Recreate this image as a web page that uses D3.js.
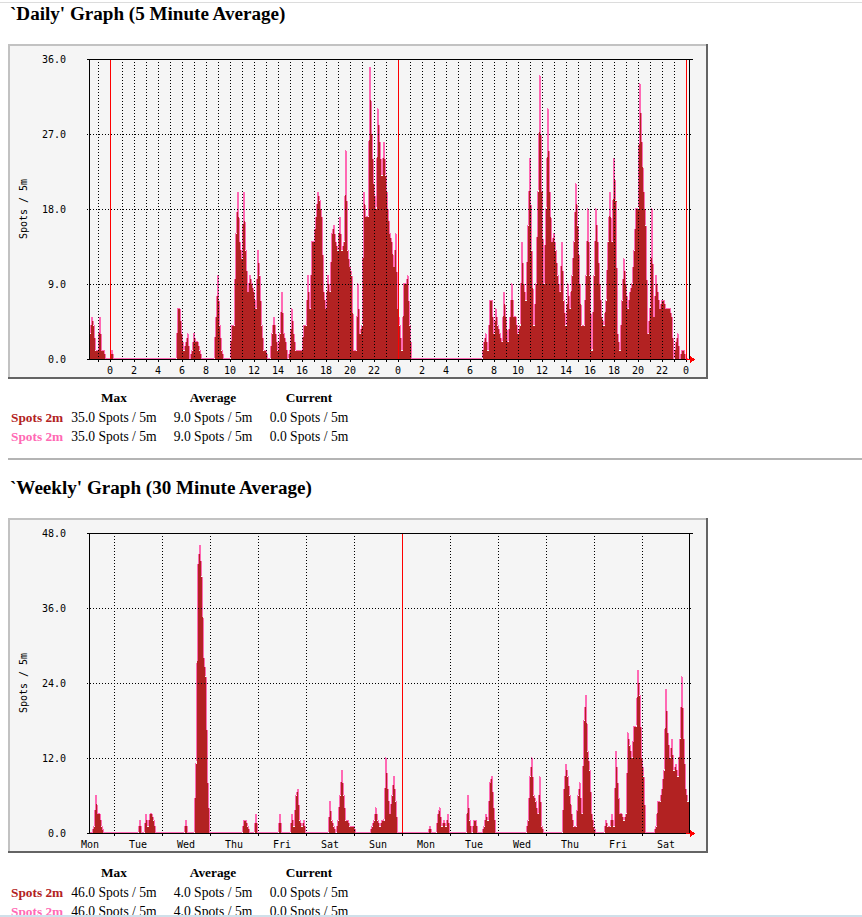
<!DOCTYPE html>
<html>
<head>
<meta charset="utf-8">
<script src="https://cdn.jsdelivr.net/npm/d3@7"></script>
<style>
  body { margin: 0; background: #fff; }
  svg { display: block; }
</style>
</head>
<body>
<svg id="page" width="862" height="917"></svg>
<script>
// daily graph: one value per 10 minutes, starting 22:15 the day before the first midnight
const dailyStart = -1.75;
const dailyStep = 1 / 6;
const dailySpots = [
  3,5,4,1,1,5,1,1,0,0,0,1,0,0,0,0,0,0,0,0,0,0,0,0,
  0,0,0,0,0,0,0,0,0,0,0,0,0,0,0,0,0,0,0,0,6,6,3,1,
  2,3,0,1,3,2,2,1,0,0,0,0,0,0,0,5,10,4,1,0,0,0,0,4,
  4,15,20,14,12,20,13,8,10,9,8,6,13,10,4,1,1,0,0,3,5,3,1,3,
  8,3,2,0,1,6,3,1,1,1,1,4,4,10,6,14,14,17,20,19,17,8,6,10,
  8,15,16,14,13,17,13,14,25,13,11,10,1,1,9,3,4,20,17,17,35,27,21,18,
  30,26,22,26,22,18,15,14,11,15,6,4,1,9,9,10,4,0,0,0,0,0,0,0,
  0,0,0,0,0,0,0,0,0,0,0,0,0,0,0,0,0,0,0,0,0,0,0,0,
  0,0,0,0,0,2,3,1,7,7,3,6,4,3,2,8,5,2,5,9,5,5,3,4,
  14,9,7,16,24,13,4,9,20,34,20,9,18,30,20,14,15,13,10,8,14,7,4,9,
  6,10,14,21,16,9,4,4,10,18,10,1,10,18,14,9,5,4,7,14,20,14,24,19,
  3,1,7,12,9,6,8,9,13,18,18,33,26,20,16,3,6,18,5,10,8,6,7,7,
  6,6,6,5,0,2,3,0,1,1,0,0
];
const dailyYTicks = [0, 9, 18, 27, 36];
const dailyHourLabels = ["0","2","4","6","8","10","12","14","16","18","20","22",
  "0","2","4","6","8","10","12","14","16","18","20","22","0"];
const dailyMidnights = [0, 24, 48];

// weekly graph: one value per hour, starting Monday 11:30
const weeklyStart = 11.5;
const weeklyStep = 1;
const weeklySpots = [
  0,0,1,6,3,3,1,0,0,0,0,0,0,0,0,0,0,0,0,0,0,0,0,0,
  0,2,0,0,3,1,3,3,2,0,0,0,0,0,0,0,0,0,0,0,0,0,0,0,
  2,0,0,0,0,11,43,46,41,28,25,8,0,0,0,0,0,0,0,0,0,0,0,0,
  0,0,0,0,0,2,2,1,0,0,0,3,0,0,0,0,0,0,0,0,0,0,0,3,
  0,0,0,0,0,3,1,6,7,2,1,2,0,0,0,0,0,0,0,0,0,0,0,0,
  5,2,1,0,2,6,10,6,2,2,1,1,1,0,0,0,0,0,0,0,0,1,2,4,
  2,1,2,2,12,7,3,6,9,5,0,0,0,0,0,0,0,0,0,0,0,0,0,0,
  0,0,1,0,0,0,3,4,1,2,1,3,0,0,0,0,0,0,0,0,0,6,2,0,
  2,2,0,0,0,1,3,2,8,9,4,0,0,0,0,0,0,0,0,0,0,0,0,0,
  0,0,0,2,9,12,6,5,3,9,1,0,0,0,0,0,0,0,0,0,0,7,11,9,
  6,3,1,1,6,8,3,18,22,13,10,3,1,0,0,0,0,0,2,1,1,3,1,13,
  8,3,3,2,3,16,14,12,17,17,26,22,12,9,0,0,0,0,0,1,5,5,7,10,
  23,16,12,15,10,11,9,15,25,15,7,5
];
const weeklyYTicks = [0, 12, 24, 36, 48];
const weeklyDayLabels = ["Mon","Tue","Wed","Thu","Fri","Sat","Sun","Mon","Tue","Wed","Thu","Fri","Sat"];
const weeklyMidnights = [24, 48, 72, 96, 120, 144, 168, 192, 216, 240, 264, 288];
const weeklyWeekStart = [168];

const legendHeaders = ["Max", "Average", "Current"];
const seriesNames = ["Spots 2m", "Spots 2m"];
const dailyStats = [35, 9, 0];
const weeklyStats = [46, 4, 0];
const unit = "Spots / 5m";

const inColor = "#b22222";
const outColor = "#ff69b4";
const mono = "'DejaVu Sans Mono', monospace";
const serif = "'Liberation Serif', 'Times New Roman', serif";

const svg = d3.select('#page');

function drawGraph(cfg) {
  const W = 700, H = 335, L = 81, R = 681, T = 15, B = 315;
  const g = svg.append('g').attr('transform', `translate(8, ${cfg.top})`);

  g.append('rect').attr('width', W).attr('height', H).attr('fill', '#f5f5f5');
  g.append('rect').attr('width', W).attr('height', 2).attr('fill', '#c2c2c2');
  g.append('rect').attr('width', 2).attr('height', H).attr('fill', '#c2c2c2');
  g.append('rect').attr('y', H - 2).attr('width', W).attr('height', 2).attr('fill', '#646464');
  g.append('rect').attr('x', W - 2).attr('width', 2).attr('height', H).attr('fill', '#646464');

  const end = cfg.start + cfg.values.length * cfg.step;
  const xScale = d3.scaleLinear().domain([cfg.start, end]).range([L, R]);
  const yScale = d3.scaleLinear().domain([0, d3.max(cfg.yTicks)]).range([B, T]);

  const pts = cfg.values.map((v, i) => ({ t: cfg.start + i * cfg.step, v }));

  const area = d3.area()
    .curve(d3.curveStepAfter)
    .x(d => xScale(d.t))
    .y0(yScale(0))
    .y1(d => yScale(d.v));

  g.append('path')
    .attr('d', area(pts.concat([{ t: end, v: pts[pts.length - 1].v }])))
    .attr('fill', inColor)
    .attr('shape-rendering', 'crispEdges');

  const half = (xScale(cfg.start + cfg.step) - xScale(cfg.start)) / 2;
  const line = d3.line()
    .x(d => xScale(d.t) + half)
    .y(d => yScale(d.v) - 0.5);

  g.append('path')
    .attr('d', line(pts))
    .attr('fill', 'none')
    .attr('stroke', outColor)
    .attr('stroke-width', 1)
    .attr('shape-rendering', 'crispEdges');

  const crisp = v => Math.round(v) + 0.5;

  // dotted grid
  g.selectAll('.vgrid').data(cfg.vGrid.filter(t => !cfg.red.includes(t)))
    .join('line')
    .attr('x1', d => crisp(xScale(d))).attr('x2', d => crisp(xScale(d)))
    .attr('y1', T).attr('y2', B)
    .attr('stroke', '#000').attr('stroke-dasharray', '1,2')
    .attr('shape-rendering', 'crispEdges');

  g.selectAll('.hgrid').data(cfg.yTicks.slice(1, -1))
    .join('line')
    .attr('x1', L - 2).attr('x2', R + 4)
    .attr('y1', d => crisp(yScale(d))).attr('y2', d => crisp(yScale(d)))
    .attr('stroke', '#000').attr('stroke-dasharray', '1,2')
    .attr('shape-rendering', 'crispEdges');

  // ticks under the x axis
  g.selectAll('.xtick').data(cfg.vGrid)
    .join('line')
    .attr('x1', d => crisp(xScale(d))).attr('x2', d => crisp(xScale(d)))
    .attr('y1', B).attr('y2', B + 3)
    .attr('stroke', '#000')
    .attr('shape-rendering', 'crispEdges');

  g.selectAll('.red').data(cfg.red)
    .join('line')
    .attr('x1', d => crisp(xScale(d))).attr('x2', d => crisp(xScale(d)))
    .attr('y1', T).attr('y2', B)
    .attr('stroke', '#ff0000')
    .attr('shape-rendering', 'crispEdges');

  // frame
  const frame = g.append('g').attr('stroke', '#000').attr('shape-rendering', 'crispEdges');
  frame.append('line').attr('x1', L - 2).attr('x2', R + 4).attr('y1', T + 0.5).attr('y2', T + 0.5);
  frame.append('line').attr('x1', L - 2).attr('x2', R + 4).attr('y1', B + 0.5).attr('y2', B + 0.5);
  frame.append('line').attr('x1', L + 0.5).attr('x2', L + 0.5).attr('y1', T).attr('y2', B + 1);
  frame.append('line').attr('x1', R + 0.5).attr('x2', R + 0.5).attr('y1', T).attr('y2', B + 1);

  // arrow at the end of the time axis
  g.append('path')
    .attr('d', `M${R - 3},${B + 0.5}H${R + 2}M${R + 1},${B - 3}L${R + 5},${B + 0.5}L${R + 1},${B + 4}Z`)
    .attr('stroke', '#ff0000').attr('fill', '#ff0000')
    .attr('shape-rendering', 'crispEdges');

  // labels
  g.selectAll('.ylab').data(cfg.yTicks)
    .join('text')
    .attr('x', 58).attr('y', d => yScale(d) + 4)
    .attr('text-anchor', 'end')
    .attr('font-family', mono).attr('font-size', 10)
    .text(d => d3.format('.1f')(d));

  g.selectAll('.xlab').data(cfg.xLabels)
    .join('text')
    .attr('x', (d, i) => xScale(cfg.xLabelTimes[i]))
    .attr('y', 329.5)
    .attr('text-anchor', 'middle')
    .attr('font-family', mono).attr('font-size', 10)
    .text(d => d);

  g.append('text')
    .attr('transform', `translate(15, ${(T + B) / 2}) rotate(-90)`)
    .attr('text-anchor', 'middle')
    .attr('dominant-baseline', 'central')
    .attr('font-family', mono).attr('font-size', 10)
    .text(unit);
}

function drawTitle(text, y) {
  svg.append('text')
    .attr('x', 10).attr('y', y)
    .attr('font-family', serif).attr('font-weight', 'bold').attr('font-size', 19.1)
    .text(text);
}

function drawLegend(stats, top) {
  const cols = [114, 213, 309];
  svg.selectAll(null).data(legendHeaders)
    .join('text')
    .attr('x', (d, i) => cols[i]).attr('y', top)
    .attr('text-anchor', 'middle')
    .attr('font-family', serif).attr('font-weight', 'bold').attr('font-size', 13.33)
    .text(d => d);

  seriesNames.forEach((name, r) => {
    const y = top + 20 + r * 19;
    svg.append('text')
      .attr('x', 11).attr('y', y)
      .attr('font-family', serif).attr('font-weight', 'bold').attr('font-size', 13.33)
      .attr('fill', r === 0 ? inColor : outColor)
      .text(name);
    svg.selectAll(null).data(stats)
      .join('text')
      .attr('x', (d, i) => cols[i]).attr('y', y)
      .attr('text-anchor', 'middle')
      .attr('font-family', serif).attr('font-size', 13.6)
      .text(d => `${d3.format('.1f')(d)} ${unit}`);
  });
}

svg.append('rect').attr('width', 862).attr('height', 917).attr('fill', '#fff');
svg.append('rect').attr('y', 2).attr('width', 862).attr('height', 1).attr('fill', '#dcdcdc');

drawTitle("`Daily' Graph (5 Minute Average)", 20);
drawGraph({
  top: 44,
  values: dailySpots, start: dailyStart, step: dailyStep,
  yTicks: dailyYTicks,
  vGrid: d3.range(-1, 49),
  red: dailyMidnights,
  xLabels: dailyHourLabels,
  xLabelTimes: dailyHourLabels.map((d, i) => i * 2)
});
drawLegend(dailyStats, 402);

svg.append('rect').attr('x', 8).attr('y', 458).attr('width', 854).attr('height', 2).attr('fill', '#b4b4b4');

drawTitle("`Weekly' Graph (30 Minute Average)", 494);
drawGraph({
  top: 518,
  values: weeklySpots, start: weeklyStart, step: weeklyStep,
  yTicks: weeklyYTicks,
  vGrid: weeklyMidnights,
  red: weeklyWeekStart,
  xLabels: weeklyDayLabels,
  xLabelTimes: weeklyDayLabels.map((d, i) => 12 + i * 24)
});
drawLegend(weeklyStats, 877);

// the reference window cuts the last legend row here
svg.append('rect').attr('y', 915).attr('width', 862).attr('height', 2).attr('fill', '#cfe0ea');
</script>
</body>
</html>
